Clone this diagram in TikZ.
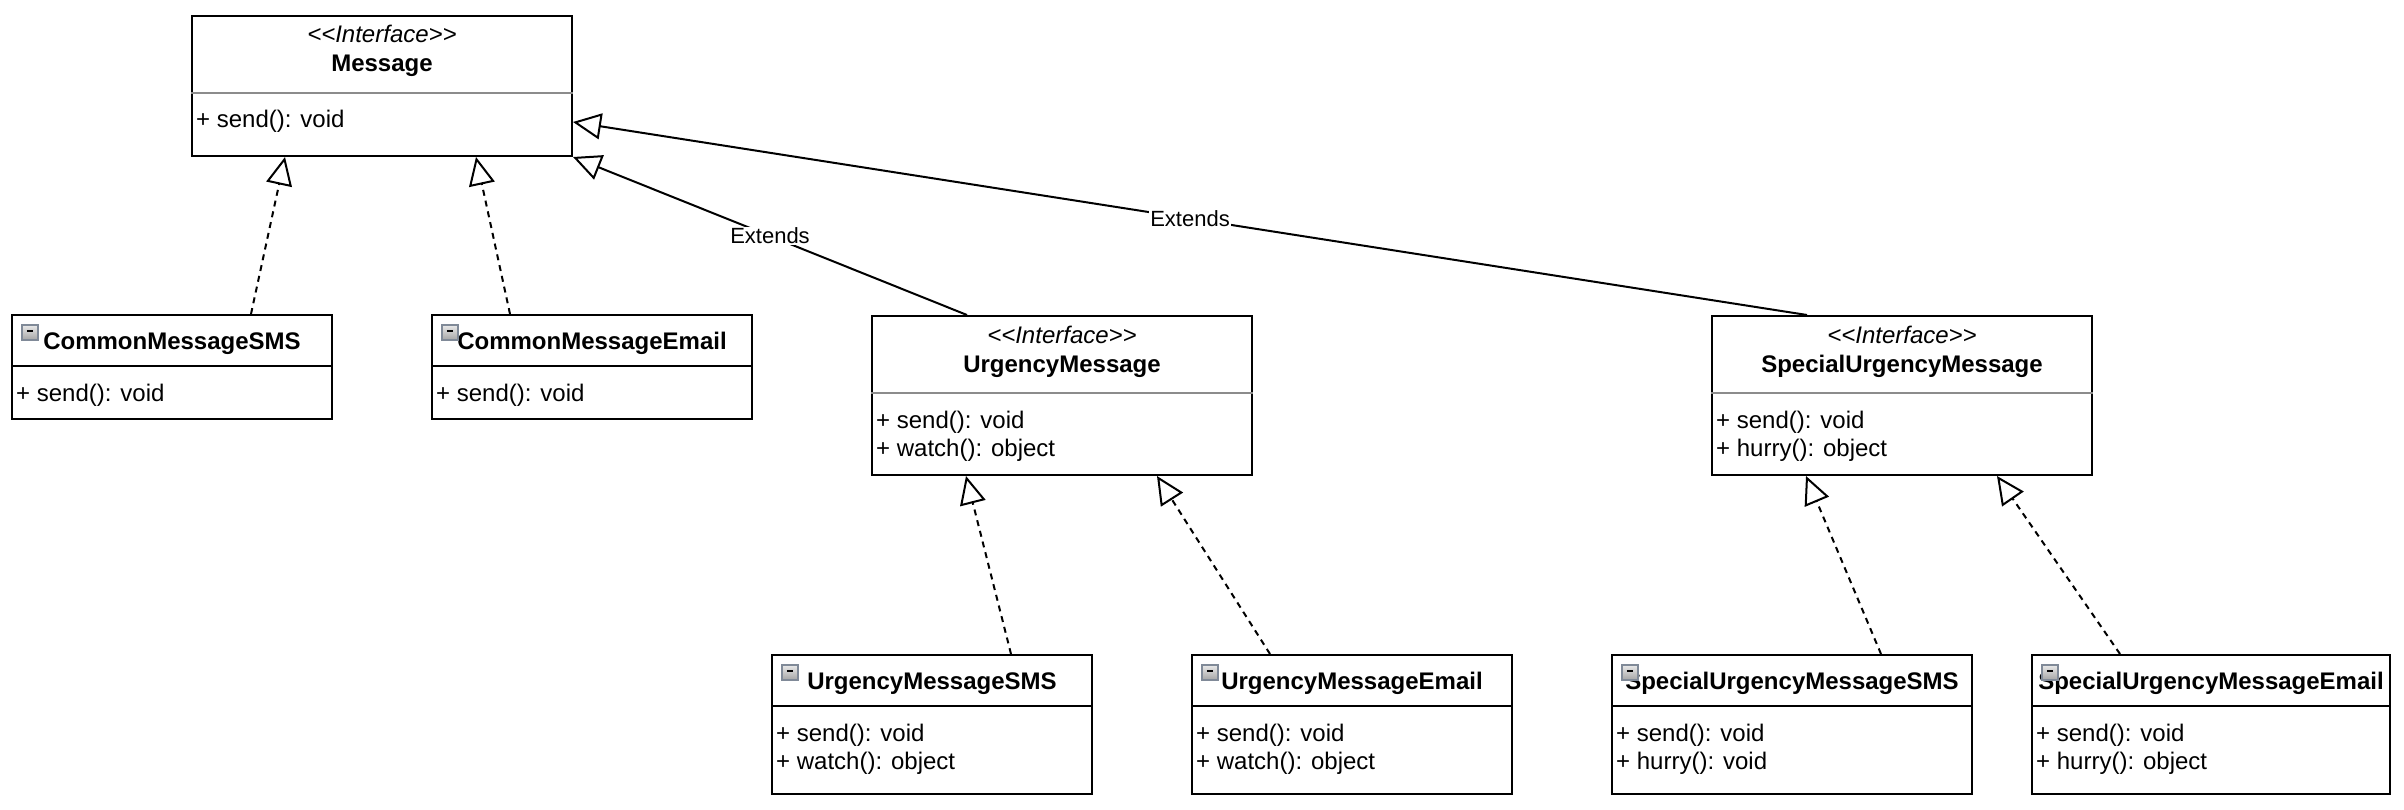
\documentclass[tikz,border=0pt]{standalone}
\usepackage{fontspec}
\setmainfont{Liberation Sans}
\usetikzlibrary{arrows.meta}

% keep << and >> from turning into guillemets
\newcommand{\stereotype}{<\kern0pt<Interface>\kern0pt>}

\begin{document}
\begin{tikzpicture}[x=1pt, y=-1pt,
    classbox/.style={draw, line width=2pt, anchor=north west, inner sep=0pt},
    headline/.style={draw=black!45, line width=2pt},
    bodyline/.style={line width=2pt},
    stereotext/.style={font=\fontsize{24}{28}\selectfont\itshape, anchor=base, inner sep=0pt},
    titletext/.style={font=\fontsize{24}{28}\selectfont\bfseries, anchor=base, inner sep=0pt},
    membertext/.style={font=\fontsize{24}{28}\selectfont, anchor=base west, inner sep=0pt},
    foldicon/.style={draw={rgb,255:red,128;green,138;blue,152}, line width=1.5pt,
        top color=black!8, bottom color=black!35, anchor=north west,
        minimum width=16pt, minimum height=15pt, inner sep=0pt},
    realizes/.style={line width=2pt, dash pattern=on 6pt off 5pt, -{Triangle[open, length=28pt, width=26pt]}},
    extends/.style={line width=2pt, -{Triangle[open, length=28pt, width=26pt]}},
    edgelabel/.style={font=\fontsize{22}{26}\selectfont, fill=white, inner sep=1pt}
]

    % Fix the page size
    \useasboundingbox (0,0) rectangle (2404,810);

    % Interfaces
    \foreach \name/\x/\y/\h/\title in {msg/191/15/140/Message,
        um/871/315/159/UrgencyMessage, sum/1711/315/159/SpecialUrgencyMessage} {
        \node[classbox, minimum width=380, minimum height=\h] (\name) at (\x,\y) {};
        \draw[headline] ([yshift=-78pt]\name.north west) -- ([yshift=-78pt]\name.north east);
        \node[stereotext] (\name-st) at ([yshift=-28pt]\name.north) {\stereotype};
        \node[titletext] (\name-title) at ([yshift=-57pt]\name.north) {\title};
    }

    % Classes
    \foreach \name/\x/\y/\w/\h/\title in {cmsms/11/314/320/104/CommonMessageSMS,
        cmemail/431/314/320/104/CommonMessageEmail,
        umsms/771/654/320/139/UrgencyMessageSMS,
        umemail/1191/654/320/139/UrgencyMessageEmail,
        susms/1611/654/360/139/SpecialUrgencyMessageSMS,
        suemail/2031/654/358/139/SpecialUrgencyMessageEmail} {
        \node[classbox, minimum width=\w, minimum height=\h] (\name) at (\x,\y) {};
        \draw[bodyline] ([yshift=-52pt]\name.north west) -- ([yshift=-52pt]\name.north east);
        \node[titletext] (\name-title) at ([yshift=-35pt]\name.north) {\title};
        % the small fold box sits on top of the title
        \node[foldicon] (\name-icon) at ([xshift=10pt,yshift=-10pt]\name.north west) {};
        \draw[line width=2pt] ([xshift=-3pt,yshift=1pt]\name-icon.center) -- ([xshift=3pt,yshift=1pt]\name-icon.center);
    }

    % Members
    \foreach \name/\dy/\txt in {msg/113/+ send(): void,
        um/113/+ send(): void, um/141/+ watch(): object,
        sum/113/+ send(): void, sum/141/+ hurry(): object,
        cmsms/87/+ send(): void, cmemail/87/+ send(): void,
        umsms/87/+ send(): void, umsms/115/+ watch(): object,
        umemail/87/+ send(): void, umemail/115/+ watch(): object,
        susms/87/+ send(): void, susms/115/+ hurry(): void,
        suemail/87/+ send(): void, suemail/115/+ hurry(): object} {
        \node[membertext] (\name-m\dy) at ([xshift=5pt,yshift=-\dy pt]\name.north west) {\txt};
    }

    % Realizations
    \draw[realizes] ([xshift=240pt]cmsms.north west) -- ([xshift=94pt]msg.south west);
    \draw[realizes] ([xshift=79pt]cmemail.north west) -- ([xshift=285pt]msg.south west);
    \draw[realizes] ([xshift=240pt]umsms.north west) -- ([xshift=95pt]um.south west);
    \draw[realizes] ([xshift=79pt]umemail.north west) -- ([xshift=286pt]um.south west);
    \draw[realizes] ([xshift=270pt]susms.north west) -- ([xshift=95pt]sum.south west);
    \draw[realizes] ([xshift=89pt]suemail.north west) -- ([xshift=286pt]sum.south west);

    % Generalizations
    \draw[extends] ([xshift=96pt]um.north west) -- node[edgelabel] (ext1) {Extends} (msg.south east);
    \draw[extends] ([xshift=96pt]sum.north west) -- node[edgelabel] (ext2) {Extends} ([yshift=35pt]msg.south east);

\end{tikzpicture}
\end{document}
